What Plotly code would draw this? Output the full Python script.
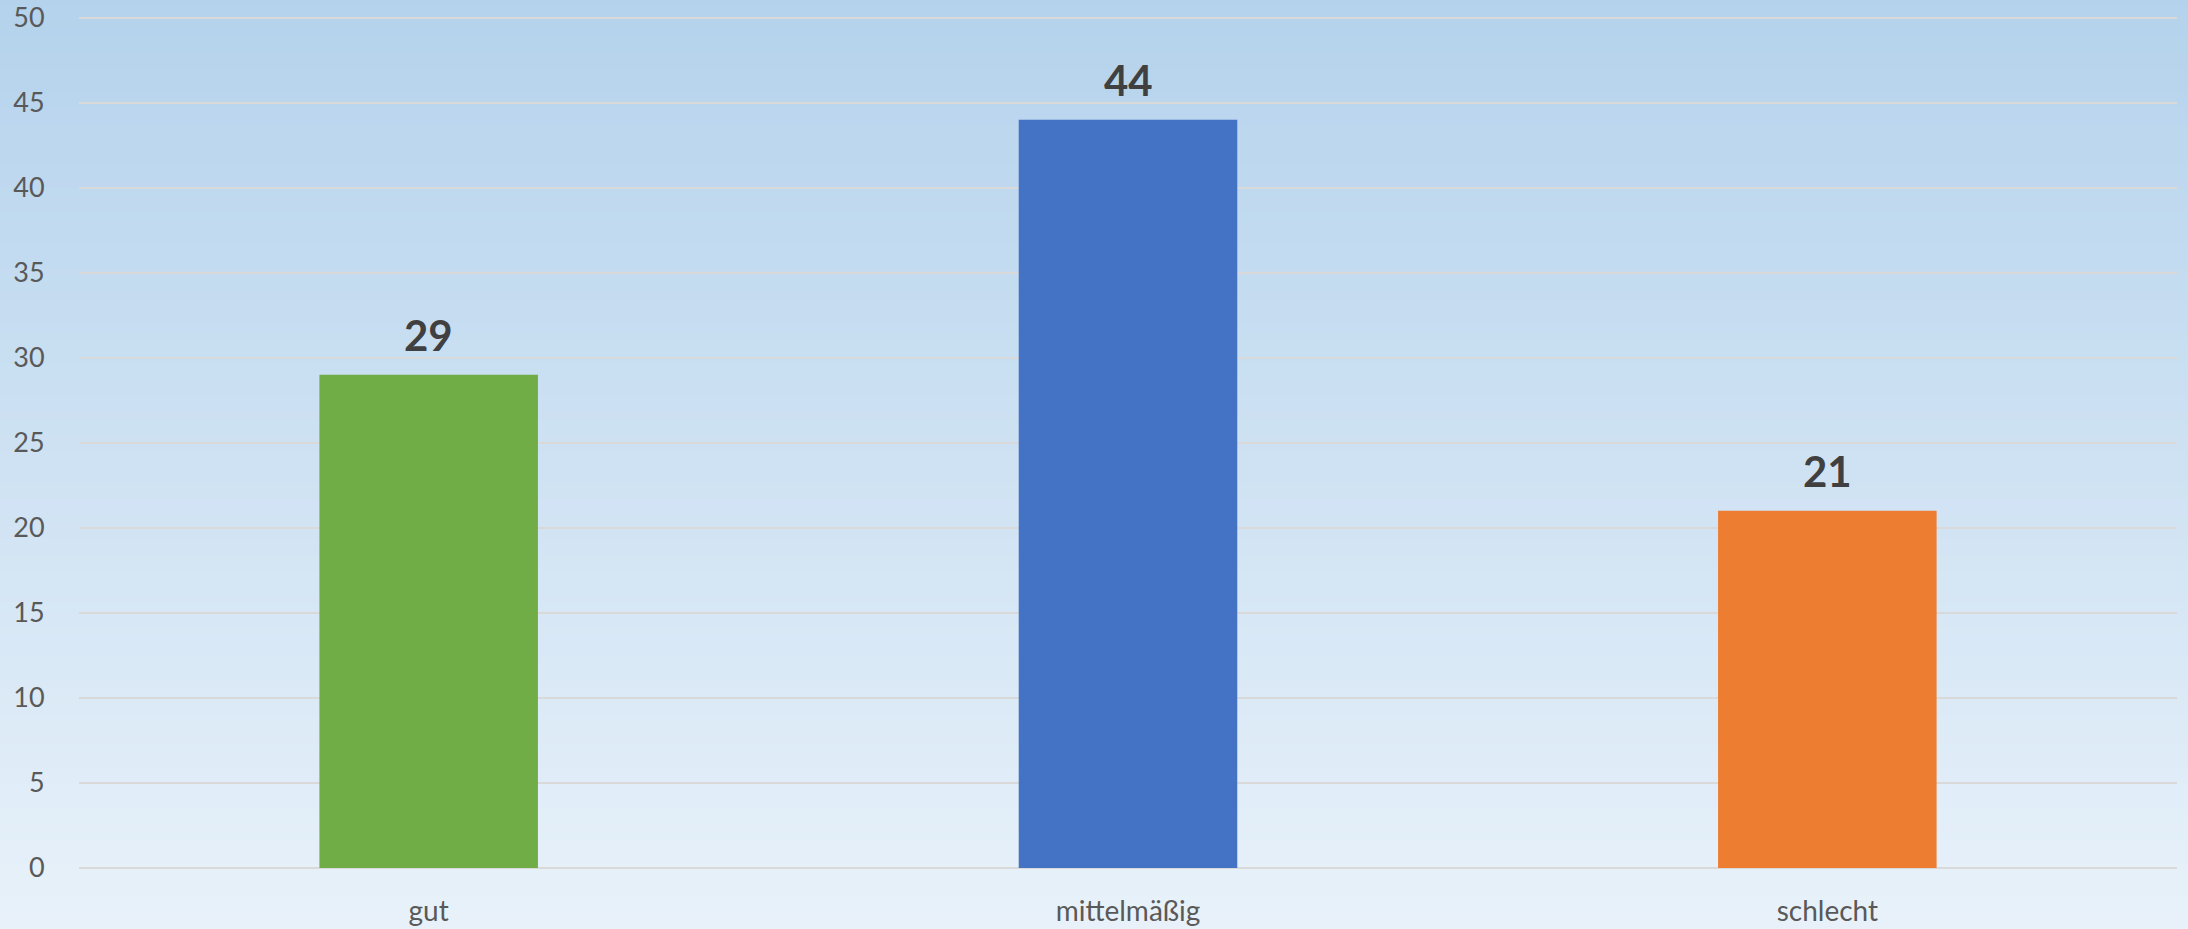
import plotly.graph_objects as go

categories = ["gut", "mittelmäßig", "schlecht"]
values = [29, 44, 21]
bar_colors = ["#70AD47", "#4472C4", "#ED7D31"]
y_ticks = [0, 5, 10, 15, 20, 25, 30, 35, 40, 45, 50]

W, H = 2188, 929
top_rgb = (180, 210, 236)
bot_rgb = (233, 242, 250)

fig = go.Figure()
fig.add_trace(go.Bar(
    x=categories, y=values,
    marker=dict(color=bar_colors, line=dict(width=0)),
    hoverinfo="x+y",
))

# vertical gradient background built from thin strips (styling only)
shapes = []
n = 120
for i in range(n):
    t = i / (n - 1)
    c = tuple(round(top_rgb[k] + (bot_rgb[k] - top_rgb[k]) * t) for k in range(3))
    shapes.append(dict(
        type="rect", xref="paper", yref="paper", layer="below",
        x0=-0.1, x1=1.1,
        y0=1.03 - (i + 1) * (1.12 / n) - 0.001, y1=1.03 - i * (1.12 / n) + 0.001,
        fillcolor="rgb(%d,%d,%d)" % c, line=dict(width=0),
    ))

annotations = []
for cat, v in zip(categories, values):
    annotations.append(dict(
        x=cat, y=v, xref="x", yref="y", text="<b>%d</b>" % v,
        showarrow=False, yanchor="middle", yshift=40,
        font=dict(family="Lato, Open Sans, sans-serif", size=42, color="#404040"),
    ))

fig.update_layout(
    width=W, height=H,
    margin=dict(l=79, r=11, t=16, b=61),
    paper_bgcolor="rgb(205,224,242)",
    plot_bgcolor="rgba(0,0,0,0)",
    bargap=0.6875,
    showlegend=False,
    shapes=shapes,
    annotations=annotations,
    font=dict(family="Lato, Open Sans, sans-serif", size=26, color="#595959"),
)
fig.update_xaxes(
    automargin=False,
    showgrid=False, showline=False, zeroline=False,
    ticks="outside", ticklen=18, tickcolor="rgba(0,0,0,0)",
    tickfont=dict(size=28, color="#595959"),
)
fig.update_yaxes(
    automargin=False,
    range=[0, 50.1], tickvals=y_ticks,
    showgrid=True, gridcolor="#D9D9D9", gridwidth=2,
    zeroline=True, zerolinecolor="#D9D9D9", zerolinewidth=2,
    showline=False,
    ticks="outside", ticklen=28, tickcolor="rgba(0,0,0,0)",
    tickfont=dict(size=27, color="#595959"),
)

fig.write_html(
    "out.html",
    config={"displayModeBar": False},
    post_script="document.body.style.margin='0';document.body.style.overflow='hidden';",
)
